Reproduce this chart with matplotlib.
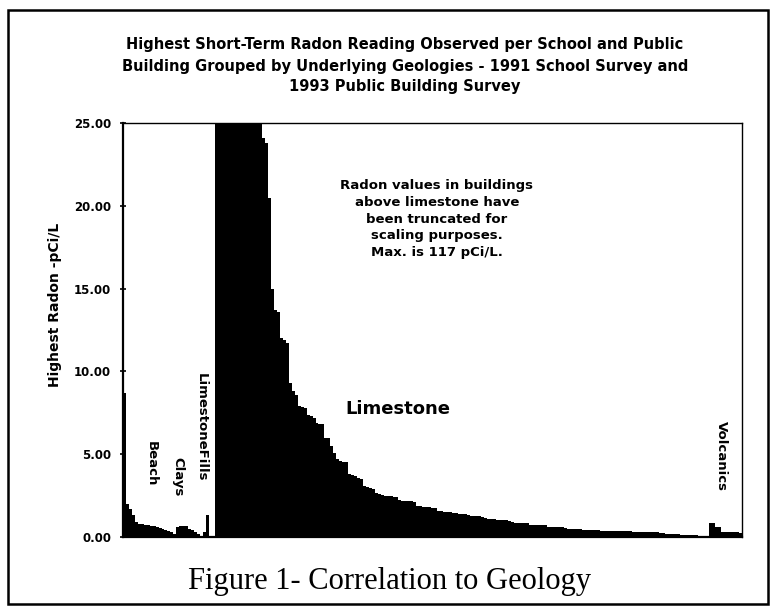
import matplotlib
matplotlib.use("Agg")
import matplotlib.pyplot as plt
import matplotlib.patches as mpatches
import numpy as np

# Highest short-term reading per building, sorted within each geology group.
group_names = ["Beach", "Clays", "LimestoneFills", "Limestone", "Volcanics"]

beach = [8.7, 2.0, 1.7, 1.3, 0.9, 0.8, 0.78, 0.75, 0.72, 0.68, 0.65, 0.6,
         0.55, 0.5, 0.42, 0.35, 0.28, 0.2]
clays = [0.62, 0.68, 0.67, 0.66, 0.5, 0.4, 0.3, 0.2]
limestone_fills = [0.3, 1.3]
limestone = [
    117.0, 82.0, 64.0, 55.0, 48.0, 43.0, 40.0, 37.0, 34.0, 32.0, 30.0, 29.0,
    28.0, 27.0, 26.0, 25.5,
    24.1, 23.8, 20.5, 15.0, 13.7, 13.6, 12.0, 11.9, 11.7, 9.3, 8.8, 8.6,
    7.9, 7.85, 7.8, 7.35, 7.3, 7.2, 6.9, 6.85, 6.8, 6.0, 5.95, 5.5,
    5.1, 4.7, 4.6, 4.55, 4.5, 3.8, 3.75, 3.7, 3.55, 3.5, 3.05, 3.0,
    2.95, 2.9, 2.65, 2.6, 2.55, 2.5, 2.5, 2.45, 2.4, 2.4,
    2.25, 2.2, 2.2, 2.2, 2.15, 2.1,
    1.85, 1.85, 1.8, 1.8, 1.8, 1.75, 1.75,
    1.55, 1.55, 1.5, 1.5, 1.5, 1.45, 1.45, 1.4, 1.4, 1.4, 1.35,
    1.28, 1.27, 1.26, 1.25, 1.2,
    1.12, 1.1, 1.1, 1.08, 1.05, 1.02, 1.0, 1.0, 0.98,
    0.88, 0.87, 0.87, 0.86, 0.85, 0.85,
    0.75, 0.74, 0.73, 0.72, 0.72, 0.71,
    0.62, 0.61, 0.6, 0.6, 0.59, 0.58, 0.57,
    0.5, 0.49, 0.48, 0.47, 0.46,
    0.43, 0.42, 0.42, 0.41, 0.4, 0.4, 0.39, 0.38,
    0.37, 0.37, 0.36, 0.36, 0.35, 0.35, 0.35, 0.34, 0.34, 0.33, 0.33, 0.33,
    0.32, 0.32, 0.31, 0.31, 0.3, 0.3,
    0.24, 0.22, 0.21, 0.2, 0.2, 0.19, 0.18,
    0.13, 0.12, 0.12, 0.11, 0.1, 0.1, 0.09, 0.08, 0.07,
]
volcanics = [0.85, 0.85, 0.6, 0.6, 0.32, 0.3, 0.3, 0.3, 0.28, 0.28, 0.27]

groups = [beach, clays, limestone_fills, limestone, volcanics]
gaps_before = [0, 0, 1, 2, 1]

y_ticks = [0, 5, 10, 15, 20, 25]
y_max = 25

title = ("Highest Short-Term Radon Reading Observed per School and Public\n"
         "Building Grouped by Underlying Geologies - 1991 School Survey and\n"
         "1993 Public Building Survey")
note = ("Radon values in buildings\nabove limestone have\nbeen truncated for\n"
        "scaling purposes.\nMax. is 117 pCi/L.")

# Lay groups out side by side, one slot per building.
xs, hs = [], []
pos = 0
for vals, gap in zip(groups, gaps_before):
    pos += gap
    xs.extend(range(pos, pos + len(vals)))
    hs.extend(vals)
    pos += len(vals)
n_slots = pos

W, H = 776, 608
fig = plt.figure(figsize=(W / 100, H / 100), dpi=100)
ax = fig.add_axes([123 / W, 1 - 537 / H, 619 / W, 414 / H])

ax.bar(xs, np.minimum(hs, y_max), width=1.0, color="black", linewidth=0)
ax.set_xlim(-0.5, n_slots - 0.5)
ax.set_ylim(0, y_max)
ax.set_xticks([])
ax.set_yticks(y_ticks)
ax.set_yticklabels([f"{t:.2f}" for t in y_ticks], fontsize=8.5,
                   fontweight="bold", family="DejaVu Sans")
ax.tick_params(axis="y", direction="inout", length=5, width=1.2, pad=6)
for s in ax.spines.values():
    s.set_linewidth(1.0)
ax.spines["left"].set_linewidth(1.6)
ax.spines["bottom"].set_linewidth(1.6)

label_kw = dict(fontsize=9.5, fontweight="bold", family="DejaVu Sans",
                rotation=-90, ha="center", va="center", transform=ax.transAxes)
ax.text(0.045, 0.177, "Beach", **label_kw)
ax.text(0.088, 0.145, "Clays", **label_kw)
ax.text(0.127, 0.264, "LimestoneFills", **label_kw)
ax.text(0.967, 0.196, "Volcanics", **label_kw)
ax.text(0.444, 0.31, "Limestone", fontsize=13, fontweight="bold",
        family="DejaVu Sans", ha="center", va="center", transform=ax.transAxes)
ax.text(0.507, 0.768, note, fontsize=9.5, fontweight="bold",
        family="DejaVu Sans", ha="center", va="center", linespacing=1.38,
        transform=ax.transAxes)

fig.text(55 / W, 1 - 305 / H, "Highest Radon -pCi/L", rotation=90,
         fontsize=10, fontweight="bold", family="DejaVu Sans",
         ha="center", va="center")
fig.text(405 / W, 1 - 66 / H, title, fontsize=10.5, fontweight="bold",
         family="DejaVu Sans", ha="center", va="center", linespacing=1.5)
fig.text(390 / W, 1 - 581 / H, "Figure 1- Correlation to Geology",
         fontsize=22, family="Liberation Serif", ha="center", va="center")

# Outer frame around the whole figure.
fig.patches.append(mpatches.Rectangle((8 / W, 1 - 604 / H), 760 / W, 594 / H,
                                      fill=False, lw=1.8, edgecolor="black",
                                      transform=fig.transFigure))

fig.savefig("out.png", dpi=100)
